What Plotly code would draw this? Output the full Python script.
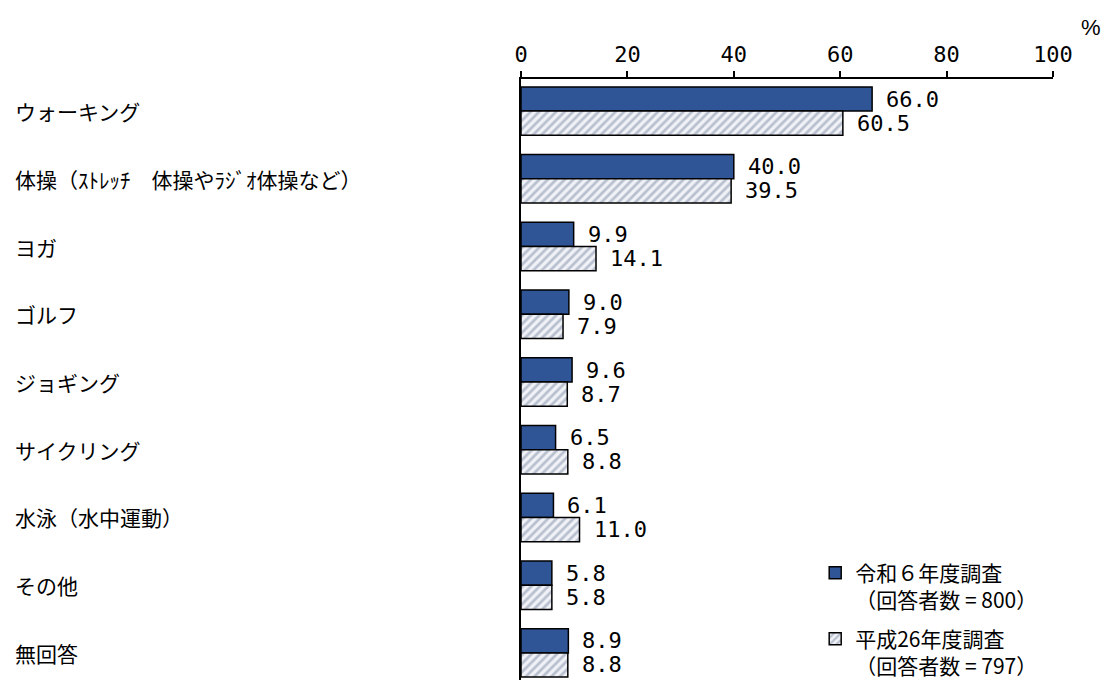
import plotly.graph_objects as go

categories = ["ウォーキング", "体操（ｽﾄﾚｯﾁ　体操やﾗｼﾞｵ体操など）", "ヨガ", "ゴルフ",
              "ジョギング", "サイクリング", "水泳（水中運動）", "その他", "無回答"]
r6_values = [66.0, 40.0, 9.9, 9.0, 9.6, 6.5, 6.1, 5.8, 8.9]
h26_values = [60.5, 39.5, 14.1, 7.9, 8.7, 8.8, 11.0, 5.8, 8.8]
r6_name = "令和６年度調査<br>（回答者数 = 800）"
h26_name = "平成26年度調査<br>（回答者数 = 797）"
x_ticks = [0, 20, 40, 60, 80, 100]

JP = "Noto Sans CJK JP"
NUM = "DejaVu Sans Mono, Liberation Mono, monospace"

fig = go.Figure()
fig.add_trace(go.Bar(
    y=categories, x=r6_values, orientation="h", name=r6_name,
    marker=dict(color="#2F5597", line=dict(color="black", width=1.5)),
    legend="legend",
))
fig.add_trace(go.Bar(
    y=categories, x=h26_values, orientation="h", name=h26_name,
    marker=dict(color="white", line=dict(color="black", width=1.5),
                pattern=dict(shape="/", fgcolor="#7F8CA5", bgcolor="#F0F2F7",
                             size=6, solidity=0.45)),
    legend="legend2",
))

annotations = []
for c in categories:
    annotations.append(dict(x=0, xref="paper", xshift=-508, y=c, yref="y",
                            text=c, showarrow=False, xanchor="left",
                            font=dict(family=JP, size=21, color="black")))
for c, v in zip(categories, r6_values):
    annotations.append(dict(x=v, y=c, xref="x", yref="y", text=f"{v:.1f}",
                            showarrow=False, xanchor="left", xshift=12, yshift=12,
                            font=dict(family=NUM, size=22, color="black")))
for c, v in zip(categories, h26_values):
    annotations.append(dict(x=v, y=c, xref="x", yref="y", text=f"{v:.1f}",
                            showarrow=False, xanchor="left", xshift=12, yshift=-12,
                            font=dict(family=NUM, size=22, color="black")))
annotations.append(dict(x=1, xref="paper", xshift=50, y=1, yref="paper", yshift=52,
                        xanchor="right", yanchor="middle",
                        text="%", showarrow=False,
                        font=dict(family="Liberation Sans Narrow, Liberation Sans, sans-serif",
                                  size=22, color="black")))

legend_style = dict(xanchor="left", yanchor="top", valign="top",
                    font=dict(family=JP, size=21, color="black"),
                    bgcolor="rgba(0,0,0,0)", itemwidth=30)

fig.update_layout(
    width=1104, height=679,
    margin=dict(l=513, r=59, t=71, b=0),
    paper_bgcolor="white", plot_bgcolor="white",
    barmode="group", bargap=0.285, bargroupgap=0,
    showlegend=True,
    legend=dict(x=0.553, y=0.212, **legend_style),
    legend2=dict(x=0.553, y=0.102, **legend_style),
    annotations=annotations,
    xaxis=dict(side="top", range=[0, 100], tickvals=x_ticks,
               ticktext=[str(t) for t in x_ticks],
               showline=True, linecolor="black", linewidth=2,
               ticks="outside", ticklen=6, tickwidth=2, tickcolor="black",
               showgrid=False, zeroline=False,
               tickfont=dict(family=NUM, size=22, color="black")),
    yaxis=dict(type="category", range=[8.40, -0.474], showticklabels=False,
               showline=True, linecolor="black", linewidth=2,
               showgrid=False, zeroline=False, ticks=""),
)

fig.write_html("out.html")
